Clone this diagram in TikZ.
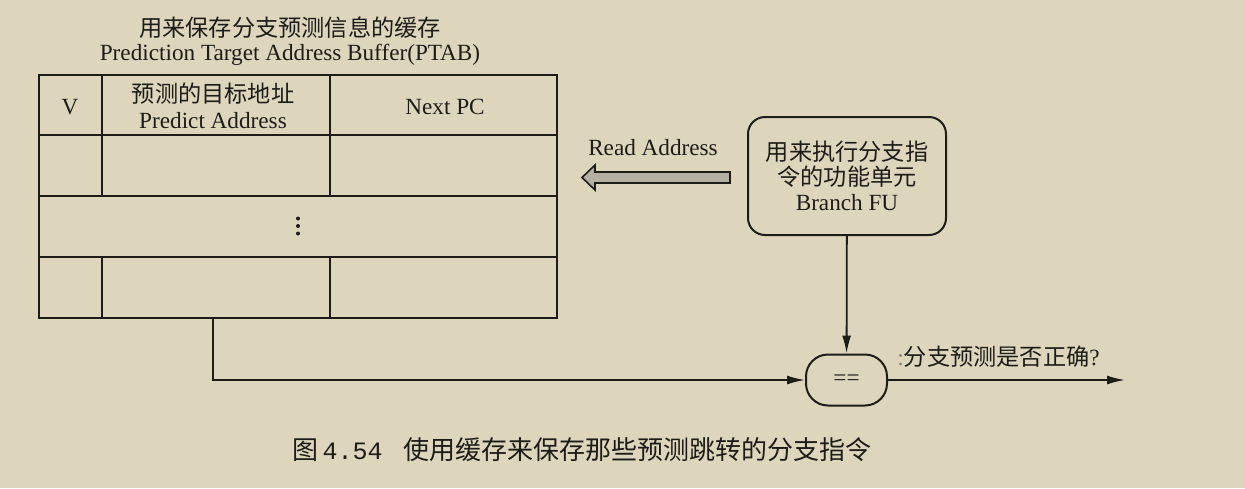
\documentclass[tikz,border=0pt]{standalone}
\usepackage{fontspec}
\setmainfont{Liberation Serif}
\setmonofont{Liberation Mono}
\newfontfamily\cjk{Noto Sans CJK SC}
\usetikzlibrary{arrows.meta}
\definecolor{paper}{RGB}{221,214,189}
\definecolor{ink}{RGB}{30,28,25}
\definecolor{shade}{RGB}{180,175,162}

\begin{document}
\begin{tikzpicture}[x=0.5pt, y=-0.5pt,
  txt/.style={inner sep=0pt, text=ink, font=\fontsize{11.6}{13}\selectfont},
  grid/.style={draw=ink, line width=1pt},
  conn/.style={draw=ink, line width=0.9pt, -{Latex[length=9pt,width=4.5pt]}},
  unit/.style={draw=ink, line width=1pt, rounded corners=8.5pt, inner sep=0pt, align=center, text=ink, font=\fontsize{11.6}{12.5}\selectfont}]
  \fill[paper] (0,0) rectangle (1245,488);
  % PTAB table
  \node[txt] (title) at (290,27.5) {\cjk 用来保存分支预测信息的缓存};
  \node[txt] (titleEn) at (290,55) {Prediction Target Address Buffer(PTAB)};
  \draw[grid] (39,75) rectangle (557,318);
  \draw[grid] (39,135) -- (557,135);
  \draw[grid] (39,196) -- (557,196);
  \draw[grid] (39,257) -- (557,257);
  \draw[grid] (102,75) -- (102,196);
  \draw[grid] (330,75) -- (330,196);
  \draw[grid] (102,257) -- (102,318);
  \draw[grid] (330,257) -- (330,318);
  \node[txt] (V) at (70,107) {V};
  \node[txt, align=center] (PA) at (213,106) {{\cjk 预测的目标地址}\\Predict Address};
  \node[txt] (NPC) at (445,107) {Next PC};
  % more rows
  \fill[ink] (298,218.5) circle (1pt);
  \fill[ink] (298,226) circle (1pt);
  \fill[ink] (298,233.5) circle (1pt);
  \coordinate (T) at (213,318);
  % read address arrow
  \draw[ink, fill=shade, line width=0.8pt] (730,172) -- (595,172) -- (595,165) -- (582,177.5) -- (595,190) -- (595,183) -- (730,183) -- cycle;
  \node[txt] (RA) at (653,148) {Read Address};
  % branch unit and compare
  \node[unit, minimum width=99pt, minimum height=59pt] (FU) at (847,176) {{\cjk 用来执行分支指}\\{\cjk 令的功能单元}\\Branch FU};
  \node[unit, rounded corners=11pt, minimum width=40.5pt, minimum height=25.5pt] (EQ) at (846.5,380) {==};
  \coordinate (OUT) at (1125,380);
  \draw[conn] (FU) -- (EQ);
  \draw[conn] (T) |- (EQ);
  \draw[conn] (EQ) -- (OUT);
  \node[txt, anchor=west] (ok) at (897,357) {\textcolor{gray}{:}{\cjk 分支预测是否正确}?};
  % caption
  \node[anchor=west, inner sep=0pt, text=ink, font=\fontsize{13}{15}\selectfont] (figno) at (292,450) {{\cjk 图}\,{\ttfamily\fontsize{12.5}{15}\selectfont 4.54}};
  \node[anchor=west, inner sep=0pt, text=ink, font=\fontsize{13}{15}\selectfont] (caption) at (403,450) {\cjk 使用缓存来保存那些预测跳转的分支指令};
\end{tikzpicture}
\end{document}
